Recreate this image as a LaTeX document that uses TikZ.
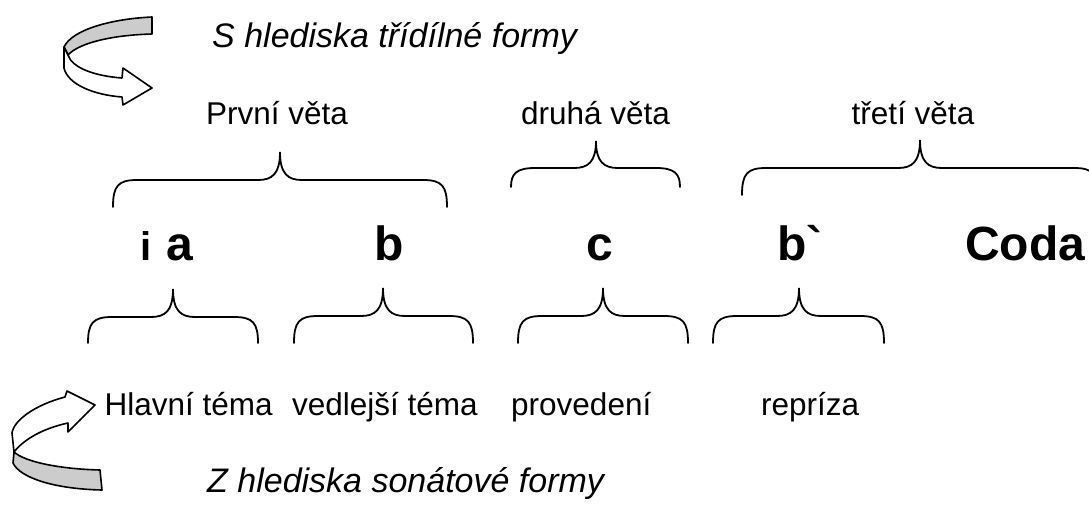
\documentclass[tikz,border=0pt]{standalone}
\usepackage{fontspec}
\setmainfont{Liberation Sans}[Ligatures=TeXOff]
\tikzset{
  brace/.style={line width=1.8pt, line cap=round},
  ribbon/.style={line width=1.6pt, line join=round},
  lbl/.style={inner sep=0pt, anchor=base west, font=\fontsize{31.5}{36}\selectfont},
  title/.style={inner sep=0pt, anchor=base west, font=\fontsize{34}{40}\selectfont\itshape},
  big/.style={inner sep=0pt, anchor=base west, font=\fontsize{48}{56}\selectfont\bfseries},
}
\newcommand\mybrace[6]{%
  \draw[brace] (#1,#4) .. controls (#1,{#5+6}) and ({#1+5},#5) .. ({#1+24},#5)
    -- ({#2-22},#5) .. controls ({#2-8},#5) and (#2,{#5-6}) .. (#2,#6)
    .. controls (#2,{#5-6}) and ({#2+8},#5) .. ({#2+22},#5)
    -- ({#3-24},#5) .. controls ({#3-5},#5) and (#3,{#5+6}) .. (#3,#4);}
\begin{document}
\begin{tikzpicture}[x=1pt,y=-1pt]
\useasboundingbox (0,0) rectangle (1089,506);
% top ribbon arrow
\filldraw[ribbon, fill=gray!40] (152,17) .. controls (110,19) and (72,30) .. (64,47)
  -- (68,55) .. controls (80,42) and (115,35) .. (152,34) -- cycle;
\filldraw[ribbon, fill=white] (64,47) -- (64,68) .. controls (68,85) and (95,95) .. (122,97)
  -- (123,105) -- (152,88) -- (123,68) -- (122,78)
  .. controls (95,76) and (72,68) .. (68,55) -- cycle;
% bottom ribbon arrow
\filldraw[ribbon, fill=white] (65,397) .. controls (35,405) and (14,420) .. (12,433)
  -- (14,452) .. controls (25,438) and (45,428) .. (68,423)
  -- (68,432) -- (95,405) -- (67,391) -- cycle;
\filldraw[ribbon, fill=gray!40] (14,452) .. controls (25,462) and (60,469) .. (100,470)
  -- (102,490) .. controls (55,489) and (20,478) .. (13,463) -- cycle;
% texts
\node[title] (t1) at (212,47) {S hlediska třídílné formy};
\node[lbl] (prvni) at (206,124) {První věta};
\node[lbl] (druha) at (521,124) {druhá věta};
\node[lbl, anchor=base] (treti) at (913,124) {třetí věta};
\node[inner sep=0pt, anchor=base west, font=\fontsize{40}{44}\selectfont\bfseries] (i) at (140,260) {i};
\node[big] (a) at (166,260) {a};
\node[big] (b) at (374,260) {b};
\node[big, anchor=base] (c) at (600,260) {c};
\node[big] (b2) at (777,260) {b`};
\node[big] (coda) at (965,260) {Coda};
\node[lbl] (hlavni) at (104.5,415) {Hlavní téma};
\node[lbl] (vedl) at (292,415) {vedlejší téma};
\node[lbl] (prov) at (511,415) {provedení};
\node[lbl] (repr) at (761,415) {repríza};
\node[title] (t2) at (207,492) {Z hlediska sonátové formy};
% braces
\mybrace{113}{280}{447}{207}{180}{152}
\mybrace{511}{596}{680}{187}{168}{141}
\mybrace{742}{920}{1098}{195}{168}{140}
\mybrace{88}{173}{258}{343}{317}{289}
\mybrace{294}{383}{473}{343}{316}{288}
\mybrace{518}{603}{688}{343}{316}{288}
\mybrace{713}{799}{884}{343}{316}{288}
\end{tikzpicture}
\end{document}
